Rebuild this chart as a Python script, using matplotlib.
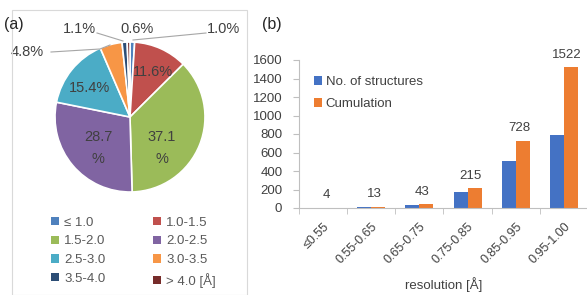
import matplotlib
matplotlib.use("Agg")
import matplotlib.pyplot as plt
from matplotlib.patches import Patch, Rectangle
import numpy as np

plt.rcParams['font.family'] = ['Liberation Sans', 'DejaVu Sans']

# ---- data ----
pie_labels = ['≤ 1.0', '1.0-1.5', '1.5-2.0', '2.0-2.5', '2.5-3.0', '3.0-3.5', '3.5-4.0', '> 4.0 [Å]']
pie_values = [1.0, 11.6, 37.1, 28.7, 15.4, 4.8, 1.1, 0.6]
pie_texts = ['1.0%', '11.6%', '37.1\n%', '28.7\n%', '15.4%', '4.8%', '1.1%', '0.6%']
pie_colors = ['#4F81BD', '#C0504D', '#9BBB59', '#8064A2', '#4BACC6', '#F79646', '#2C4D75', '#772C2A']

bar_categories = ['≤0.55', '0.55-0.65', '0.65-0.75', '0.75-0.85', '0.85-0.95', '0.95-1.00']
n_structures = [4, 9, 30, 172, 513, 794]
cumulation = [4, 13, 43, 215, 728, 1522]

W, H = 587, 295
fig = plt.figure(figsize=(W / 100, H / 100), dpi=100)
txtc = '#404040'

def px(l, t, w, h):
    return [l / W, (H - t - h) / H, w / W, h / H]

# panel a border
fig.patches.append(Rectangle((12 / W, 0), (247 - 12) / W, (H - 10) / H,
                             transform=fig.transFigure, fill=False,
                             edgecolor='#D9D9D9', linewidth=0.8))
fig.text(4 / W, 1 - 25 / H, '(a)', fontsize=11.5, color='#262626', va='center')
fig.text(262 / W, 1 - 25 / H, '(b)', fontsize=11.5, color='#262626', va='center')

# ---- pie ----
R = 75
cx, cy = 130, 117
axp = fig.add_axes(px(cx - R, cy - R, 2 * R, 2 * R))
axp.pie(pie_values, colors=pie_colors, startangle=90, counterclock=False,
        radius=1.0, wedgeprops=dict(edgecolor='white', linewidth=1.2))
axp.set_xlim(-1, 1)
axp.set_ylim(-1, 1)
axp.axis('off')

def to_data(x, y):
    return ((x - cx) / R, (cy - y) / R)

inside = {1: (153, 72), 2: (162, 148), 3: (98, 148), 4: (90, 88)}
for i, (x, y) in inside.items():
    dx, dy = to_data(x, y)
    axp.text(dx, dy, pie_texts[i], ha='center', va='center', fontsize=10.5,
             color='#404040', linespacing=1.7)

outside = {0: (223, 29), 7: (137, 29), 6: (79, 29), 5: (27, 52)}
for i, (x, y) in outside.items():
    dx, dy = to_data(x, y)
    axp.text(dx, dy, pie_texts[i], ha='center', va='center', fontsize=10.5,
             color='#404040', clip_on=False)

lc = '#A6A6A6'
leaders = [
    [(206, 33), (133, 40)],
    [(97, 33), (123, 41)],
    [(51, 52), (100, 49), (110, 45)],
]
for pts in leaders:
    d = [to_data(x, y) for x, y in pts]
    axp.plot([p[0] for p in d], [p[1] for p in d], color=lc, lw=0.8, clip_on=False)

# pie legend
col1 = [0, 2, 4, 6]
col2 = [1, 3, 5, 7]
order = col1 + col2
handles = [Patch(facecolor=pie_colors[i], edgecolor='none') for i in order]
labels = [pie_labels[i] for i in order]
fig.legend(handles, labels, ncol=2, loc='upper left',
           bbox_to_anchor=(39 / W, 1 - 205 / H), frameon=False,
           fontsize=9.5, labelcolor='#595959', handlelength=0.6, handleheight=0.6,
           handletextpad=0.4, columnspacing=3.6, labelspacing=0.5)

# ---- bars ----
axb = fig.add_axes(px(299, 60, 289, 148))
x = np.arange(len(bar_categories))
w = 0.29
b1 = axb.bar(x - w / 2, n_structures, w, color='#4472C4', label='No. of structures')
b2 = axb.bar(x + w / 2, cumulation, w, color='#ED7D31', label='Cumulation')
for xi, v in zip(x, cumulation):
    axb.text(xi + w / 2 - 0.08, v + 70, str(v), ha='center', va='bottom',
             fontsize=9.5, color=txtc)
axb.set_xlim(-0.5, 5.5)
axb.set_ylim(0, 1600)
axb.set_yticks(np.arange(0, 1601, 200))
axb.set_xticks(x)
axb.set_xticklabels(bar_categories, rotation=45, ha='right', rotation_mode='anchor',
                    fontsize=9, color=txtc)
axb.set_xticks(np.arange(-0.5, 6.0, 1.0), minor=True)
axb.tick_params(axis='x', which='major', length=0, pad=9)
axb.tick_params(axis='x', which='minor', length=4, color='#BFBFBF', direction='out')
axb.tick_params(axis='y', length=4, color='#BFBFBF', labelsize=9.5, labelcolor=txtc, pad=8)
for s in ['top', 'right']:
    axb.spines[s].set_visible(False)
axb.spines['left'].set_color('#BFBFBF')
axb.spines['bottom'].set_color('#BFBFBF')
axb.set_xlabel('resolution [Å]', fontsize=9.5, color=txtc, labelpad=8)
axb.legend(loc='upper left', bbox_to_anchor=(0.01, 0.97), frameon=False, fontsize=9.5,
           labelcolor=txtc, handlelength=0.6, handleheight=0.6, handletextpad=0.3,
           labelspacing=0.75)

fig.savefig('out.png', dpi=100)
